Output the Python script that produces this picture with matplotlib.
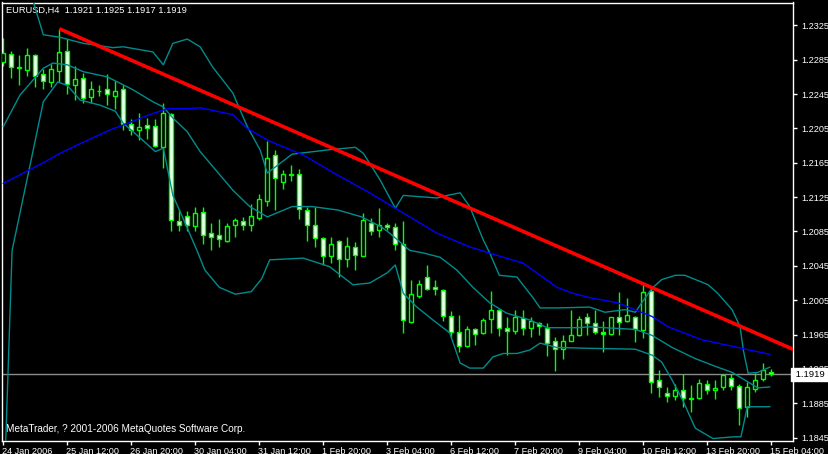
import numpy as np
import matplotlib
matplotlib.use("Agg")
import matplotlib.pyplot as plt
import matplotlib.transforms as mtransforms

plt.rcParams['font.family'] = ['Liberation Sans', 'DejaVu Sans']

# ---------------- data (EURUSD H4 candles, bar 0 = 24 Jan 2006 04:00) -------------
opens = [1.2282, 1.2292, 1.2275, 1.2273, 1.2291, 1.2268, 1.2259, 1.2272, 1.2295, 1.2255,
         1.2264, 1.2242, 1.2248, 1.2251, 1.2243, 1.2251, 1.2210, 1.2203, 1.2209, 1.2208,
         1.2183, 1.2222, 1.2097, 1.2103, 1.2091, 1.2108, 1.2083, 1.2081, 1.2074, 1.2092,
         1.2097, 1.2093, 1.2101, 1.2120, 1.2174, 1.2143, 1.2151, 1.2152, 1.2110, 1.2093,
         1.2077, 1.2056, 1.2074, 1.2053, 1.2067, 1.2057, 1.2095, 1.2087, 1.2092, 1.2090,
         1.2070, 1.1980, 1.2010, 1.2032, 1.2020, 1.2017, 1.1987, 1.1968, 1.1952, 1.1971,
         1.1967, 1.1983, 1.1994, 1.1973, 1.1969, 1.1984, 1.1973, 1.1979, 1.1973, 1.1957,
         1.1948, 1.1958, 1.1964, 1.1985, 1.1978, 1.1968, 1.1966, 1.1986, 1.1981, 1.1986,
         1.1970, 1.2016, 1.1912, 1.1897, 1.1893, 1.1900, 1.1890, 1.1891, 1.1908, 1.1900,
         1.1904, 1.1915, 1.1905, 1.1881, 1.1902, 1.1913, 1.1921]
highs = [1.2310, 1.2295, 1.2290, 1.2298, 1.2292, 1.2274, 1.2280, 1.2321, 1.2309, 1.2278,
         1.2269, 1.2260, 1.2255, 1.2268, 1.2260, 1.2256, 1.2216, 1.2223, 1.2217, 1.2216,
         1.2234, 1.2223, 1.2111, 1.2109, 1.2113, 1.2113, 1.2095, 1.2100, 1.2095, 1.2101,
         1.2102, 1.2117, 1.2129, 1.2190, 1.2180, 1.2157, 1.2162, 1.2158, 1.2113, 1.2113,
         1.2079, 1.2078, 1.2075, 1.2079, 1.2073, 1.2106, 1.2101, 1.2112, 1.2095, 1.2095,
         1.2097, 1.2029, 1.2028, 1.2046, 1.2029, 1.2018, 1.1993, 1.1988, 1.1975, 1.1973,
         1.1984, 1.2016, 1.1995, 1.1986, 1.1994, 1.1994, 1.1986, 1.1980, 1.1979, 1.1962,
         1.1964, 1.1994, 1.1987, 1.1990, 1.1994, 1.1981, 1.1986, 1.2015, 1.2008, 1.1987,
         1.2024, 1.2019, 1.1924, 1.1904, 1.1908, 1.1919, 1.1906, 1.1913, 1.1912, 1.1912,
         1.1919, 1.1919, 1.1908, 1.1910, 1.1920, 1.1932, 1.1925]
lows = [1.2278, 1.2264, 1.2255, 1.2266, 1.2253, 1.2251, 1.2253, 1.2259, 1.2245, 1.2238,
        1.2234, 1.2234, 1.2243, 1.2232, 1.2228, 1.2203, 1.2197, 1.2192, 1.2193, 1.2183,
        1.2159, 1.2085, 1.2085, 1.2085, 1.2085, 1.2070, 1.2063, 1.2067, 1.2073, 1.2078,
        1.2087, 1.2086, 1.2098, 1.2115, 1.2110, 1.2134, 1.2144, 1.2100, 1.2074, 1.2067,
        1.2046, 1.2048, 1.2032, 1.2044, 1.2040, 1.2056, 1.2081, 1.2078, 1.2087, 1.2064,
        1.1967, 1.1979, 1.2008, 1.2017, 1.2011, 1.1981, 1.1962, 1.1945, 1.1951, 1.1953,
        1.1966, 1.1967, 1.1963, 1.1941, 1.1966, 1.1964, 1.1962, 1.1964, 1.1940, 1.1923,
        1.1937, 1.1957, 1.1963, 1.1964, 1.1966, 1.1945, 1.1965, 1.1964, 1.1980, 1.1956,
        1.1961, 1.1897, 1.1892, 1.1887, 1.1889, 1.1881, 1.1875, 1.1890, 1.1896, 1.1890,
        1.1901, 1.1901, 1.1860, 1.1869, 1.1898, 1.1911, 1.1917]
closes = [1.2293, 1.2276, 1.2276, 1.2290, 1.2266, 1.2260, 1.2274, 1.2294, 1.2257, 1.2263,
          1.2240, 1.2251, 1.2249, 1.2245, 1.2249, 1.2210, 1.2203, 1.2207, 1.2206, 1.2184,
          1.2223, 1.2098, 1.2092, 1.2092, 1.2106, 1.2081, 1.2079, 1.2076, 1.2091, 1.2098,
          1.2092, 1.2103, 1.2123, 1.2171, 1.2147, 1.2152, 1.2152, 1.2111, 1.2092, 1.2077,
          1.2057, 1.2071, 1.2053, 1.2068, 1.2058, 1.2098, 1.2085, 1.2092, 1.2090, 1.2071,
          1.1982, 1.2012, 1.2024, 1.2018, 1.2018, 1.1987, 1.1968, 1.1952, 1.1972, 1.1966,
          1.1982, 1.1994, 1.1973, 1.1969, 1.1985, 1.1973, 1.1981, 1.1975, 1.1955, 1.1948,
          1.1957, 1.1964, 1.1983, 1.1979, 1.1968, 1.1966, 1.1985, 1.1980, 1.1988, 1.1971,
          1.2015, 1.1910, 1.1904, 1.1893, 1.1901, 1.1891, 1.1891, 1.1909, 1.1901, 1.1903,
          1.1918, 1.1905, 1.1880, 1.1904, 1.1912, 1.1924, 1.1919]

# Moving average (blue): bar position -> price
ma_x = [0, 5, 7.1, 10, 13.3, 15, 18.3, 20.5, 23.3, 24.6, 28.7, 30.5, 33.3, 37.5, 41.7,
        45.8, 49, 54.2, 58.3, 62.5, 65, 69.2, 71.2, 73.3, 76.8, 81.1, 83.1, 87.3, 92.3, 95.8]
ma_y = [1.2141, 1.2165, 1.2176, 1.2189, 1.2203, 1.2209, 1.2221, 1.2228, 1.2228, 1.2229,
        1.2221, 1.2205, 1.2190, 1.2174, 1.2151, 1.2130, 1.2112, 1.2083, 1.2067, 1.2055,
        1.2048, 1.2020, 1.2013, 1.2008, 1.2002, 1.1986, 1.1974, 1.1959, 1.1949, 1.1942]

# Bollinger bands (teal)
bb_up_x = [3.7, 5, 7.1, 10, 13.7, 15, 18.7, 20, 21.2, 23, 24.6, 26.2, 28.7, 30.5, 32.1, 33,
           36.1, 40.6, 44, 45, 47.1, 49, 50, 54.2, 55.5, 57.1, 58.3, 60, 60.8, 62, 64.2,
           66.2, 67.1, 69.2, 73.3, 75.2, 77.7, 79, 79.8, 81.1, 82.3, 84, 85.2, 88.1, 89.3,
           91.1, 92.1, 92.5, 93.1, 94.3, 95.8]
bb_up_y = [1.2354, 1.2314, 1.2311, 1.2304, 1.2299, 1.2300, 1.2294, 1.2279, 1.2304, 1.2309,
           1.2300, 1.2276, 1.2246, 1.2207, 1.2180, 1.2153, 1.2175, 1.2180, 1.2183, 1.2176,
           1.2145, 1.2112, 1.2127, 1.2124, 1.2127, 1.2130, 1.2114, 1.2075, 1.2060, 1.2034,
           1.2032, 1.2008, 1.1996, 1.1996, 1.1997, 1.1991, 1.1994, 1.1991, 1.2002, 1.2019,
           1.2029, 1.2034, 1.2034, 1.2023, 1.2013, 1.1994, 1.1974, 1.1947, 1.1920, 1.1921,
           1.1927]
bb_mid_x = [0, 2.1, 5, 6.2, 8, 10, 13, 16.2, 18.7, 20, 21.2, 23, 24.6, 28.7, 30.8, 33, 36.1,
            38.6, 41.8, 44.8, 47.3, 48.3, 50.8, 52.5, 54.6, 56.7, 58.7, 60.8, 62.9, 65.8, 68,
            71.7, 73.3, 79, 81.1, 83.6, 86.5, 89.3, 91.1, 92.7, 94.3, 95.8]
bb_mid_y = [1.2207, 1.2244, 1.2275, 1.2281, 1.2279, 1.2271, 1.2265, 1.2250, 1.2236, 1.2230,
            1.2217, 1.2201, 1.2178, 1.2133, 1.2114, 1.2102, 1.2114, 1.2114, 1.2110, 1.2102,
            1.2090, 1.2083, 1.2063, 1.2060, 1.2055, 1.2040, 1.2020, 1.2002, 1.1990, 1.1982,
            1.1973, 1.1973, 1.1974, 1.1971, 1.1964, 1.1950, 1.1937, 1.1927, 1.1921, 1.1912,
            1.1903, 1.1904]
bb_low_x = [0.3, 1.1, 3.7, 5, 6.8, 8, 9.6, 12.1, 14, 15, 17.1, 19, 20, 21.2, 23, 24.2, 25.2,
            27, 29, 31, 32.3, 33.3, 37.5, 40.8, 43.7, 45.8, 48, 49, 50, 51.7, 53.7, 55.8,
            57.1, 58.3, 60, 61.2, 62.5, 64.2, 65.8, 67.1, 69.2, 73.3, 79, 81.1, 82.3, 83.6,
            84.9, 86.5, 88.7, 91.3, 92.2, 93, 95.8]
bb_low_y = [1.1840, 1.2063, 1.2178, 1.2236, 1.2259, 1.2255, 1.2238, 1.2232, 1.2225, 1.2211,
            1.2194, 1.2178, 1.2182, 1.2127, 1.2089, 1.2063, 1.2040, 1.2020, 1.2012, 1.2015,
            1.2030, 1.2052, 1.2054, 1.2044, 1.2023, 1.2025, 1.2037, 1.2046, 1.2013, 1.1997,
            1.1982, 1.1967, 1.1932, 1.1926, 1.1926, 1.1939, 1.1943, 1.1943, 1.1947, 1.1955,
            1.1950, 1.1949, 1.1948, 1.1941, 1.1933, 1.1912, 1.1889, 1.1856, 1.1844, 1.1846,
            1.1846, 1.1881, 1.1881]

# Trend line anchors (bar index of the two highs it touches)
trend_bars = [7, 80]

price_ticks = [1.2325, 1.2285, 1.2245, 1.2205, 1.2165, 1.2125, 1.2085, 1.2045,
               1.2005, 1.1965, 1.1925, 1.1885, 1.1845]
time_tick_bars = [0, 8, 16, 24, 32, 40, 48, 56, 64, 72, 80, 88, 96]
time_labels = ["24 Jan 2006", "25 Jan 12:00", "26 Jan 20:00", "30 Jan 04:00",
               "31 Jan 12:00", "1 Feb 20:00", "3 Feb 04:00", "6 Feb 12:00",
               "7 Feb 20:00", "9 Feb 04:00", "10 Feb 12:00", "13 Feb 20:00",
               "15 Feb 04:00"]
title_text = "EURUSD,H4  1.1921 1.1925 1.1917 1.1919"
copyright_text = "MetaTrader, ? 2001-2006 MetaQuotes Software Corp."
bid_price = 1.1919

# ---------------- figure ----------------
W, H = 829, 454
fig = plt.figure(figsize=(W / 100, H / 100), dpi=100, facecolor='black')
left_px, right_px, top_px, bot_px = 2.5, 793, 2.5, 441
ax = fig.add_axes([left_px / W, (H - bot_px) / H, (right_px - left_px) / W,
                   (bot_px - top_px) / H])
ax.set_facecolor('black')
ax.set_xlim(-0.1, 98.71)
ax.set_ylim(1.184112, 1.235154)

GREEN = '#00ff00'
x = np.arange(len(opens))
o = np.array(opens); c = np.array(closes); h = np.array(highs); l = np.array(lows)

# wicks
ax.vlines(x, l, h, colors=GREEN, linewidth=1.0, zorder=2)
# bodies
bull = c >= o
body_bottom = np.minimum(o, c)
body_height = np.abs(c - o)
ax.bar(x[bull], body_height[bull], bottom=body_bottom[bull], width=0.5,
       color='black', edgecolor=GREEN, linewidth=1.0, zorder=3)
ax.bar(x[~bull], body_height[~bull], bottom=body_bottom[~bull], width=0.5,
       color='white', edgecolor=GREEN, linewidth=1.0, zorder=3)

# indicators
TEAL = '#008c8c'
ax.plot(bb_up_x, bb_up_y, color=TEAL, lw=1.0, zorder=4)
ax.plot(bb_mid_x, bb_mid_y, color=TEAL, lw=1.0, zorder=4)
ax.plot(bb_low_x, bb_low_y, color=TEAL, lw=1.0, zorder=4)
ax.plot(ma_x, ma_y, color='#0000ff', lw=1.0, zorder=4)

# bid line
ax.axhline(bid_price, color='#8c8c8c', lw=1.0, zorder=1)

# trend line (ray from first anchor through second)
b0, b1 = trend_bars
p0, p1 = highs[b0], highs[b1]
slope = (p1 - p0) / (b1 - b0)
x_end = 100
ax.plot([b0, x_end], [p0, p0 + slope * (x_end - b0)], color='#ff0000', lw=2.6,
        zorder=6, solid_capstyle='butt')

# spines / ticks
for s in ax.spines.values():
    s.set_color('white')
    s.set_linewidth(1.0)
ax.yaxis.tick_right()
ax.set_yticks(price_ticks)
ax.set_yticklabels([f"{v:.4f}" for v in price_ticks])
ax.tick_params(axis='y', colors='white', labelcolor='white', labelsize=6.6,
               length=3, width=1, direction='out', pad=3)
ax.set_xticks(time_tick_bars)
ax.set_xticklabels(time_labels)
ax.tick_params(axis='x', colors='white', labelcolor='white', labelsize=6.6,
               length=3, width=1, direction='out', pad=1)
for lab in ax.get_xticklabels():
    lab.set_horizontalalignment('left')
offset = mtransforms.ScaledTranslation(-1.5 / 100, 0, fig.dpi_scale_trans)
for lab in ax.get_xticklabels():
    lab.set_transform(lab.get_transform() + offset)

# current price label on the price scale (covers the 1.1925 tick label as in MT4)
trans = mtransforms.blended_transform_factory(ax.transAxes, ax.transData)
ax.text(1.0, bid_price, " " + f"{bid_price:.4f}" + "  ", transform=trans, ha='left',
        va='center', fontsize=6.8, color='black', zorder=10, clip_on=False,
        bbox=dict(boxstyle='square,pad=0.22', facecolor='white', edgecolor='white'))

# texts
ax.text(4 / (right_px - left_px), 1 - 8 / (bot_px - top_px), title_text,
        transform=ax.transAxes, color='white', fontsize=6.7, ha='left', va='center')
ax.text(3 / (right_px - left_px), 1 - 426 / (bot_px - top_px), copyright_text,
        transform=ax.transAxes, color='white', fontsize=7.2, ha='left', va='center')

fig.savefig('out.png', dpi=100, facecolor='black')
